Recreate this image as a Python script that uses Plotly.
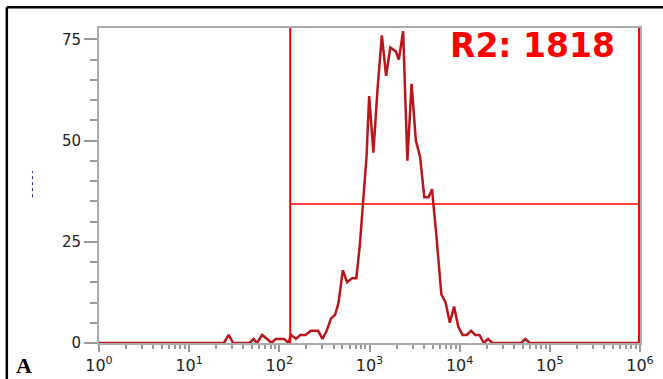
import plotly.graph_objects as go

# Histogram (fluorescence intensity vs. count)
intensity = [1, 24.3, 27.4, 30.8, 46.5, 51.9, 56.5, 64.4, 73.3, 81.7, 91.2, 113, 126, 135,
             153, 171, 195, 224, 269, 301, 335, 373, 416, 454, 506, 564, 641, 714, 780,
             851, 927, 991, 1104, 1230, 1371, 1528, 1702, 1963, 2113, 2360, 2630, 2931,
             3266, 3639, 4055, 4519, 4932, 5495, 6266, 6982, 7780, 8670, 9661, 10765,
             11995, 13366, 14894, 16596, 18535, 20654, 23014, 48084, 53580, 59704, 1000000]
counts = [0, 0, 2, 0, 0, 1, 0, 2, 1, 0, 1, 1, 0, 2,
          1, 2, 2, 3, 3, 1, 3, 6, 7, 10, 18, 15, 16, 16, 24,
          34, 46, 61, 47, 63, 76, 66, 73, 72, 70, 77, 45, 64,
          50, 46, 36, 36, 38, 27, 12, 10, 5, 9, 4, 2,
          2, 3, 2, 2, 0, 1, 0, 0, 1, 0, 0]

# Gate (region R2)
gate_lo = 132
gate_hi = 975000
gate_level = 34.3
gate_label = "R2: 1818"

x_tickvals = [1, 10, 100, 1000, 10000, 100000, 1000000]
x_ticktext = ["10<sup>0</sup>", "10<sup>1</sup>", "10<sup>2</sup>", "10<sup>3</sup>",
              "10<sup>4</sup>", "10<sup>5</sup>", "10<sup>6</sup>"]
y_tickvals = [0, 25, 50, 75]
y_ticktext = ["0", "25", "50", "75"]
panel_label = "A"

minor_x = [m * d for d in x_tickvals[:-1] for m in range(2, 10)]

fig = go.Figure()
fig.add_trace(go.Scatter(x=intensity, y=counts, mode="lines",
                         line=dict(color="#b8161b", width=2.5), showlegend=False,
                         hoverinfo="skip"))

red = "#ff0000"
shapes = [
    dict(type="line", xref="x", yref="paper", x0=gate_lo, x1=gate_lo, y0=0, y1=1,
         line=dict(color=red, width=2)),
    dict(type="line", xref="x", yref="paper", x0=gate_hi, x1=gate_hi, y0=0, y1=1,
         line=dict(color=red, width=2)),
    dict(type="line", xref="x", yref="y", x0=gate_lo, x1=gate_hi, y0=gate_level, y1=gate_level,
         line=dict(color=red, width=1.5)),
    # black outer border (top and left)
    dict(type="line", xref="paper", yref="paper", x0=-0.1704, x1=1.06, y0=1.0657, y1=1.0657,
         line=dict(color="black", width=2.5)),
    dict(type="line", xref="paper", yref="paper", x0=-0.1704, x1=-0.1704, y0=-0.13, y1=1.0657,
         line=dict(color="black", width=2.5)),
    # small dotted mark where the y-axis title would be
    dict(type="line", xref="paper", yref="paper", x0=-0.123, x1=-0.123, y0=0.463, y1=0.5455,
         line=dict(color="#1a2a8a", width=1, dash="dot")),
]

fig.update_layout(
    width=663, height=379,
    margin=dict(l=99, r=23, t=28, b=36),
    paper_bgcolor="white", plot_bgcolor="white",
    shapes=shapes,
    font=dict(family="DejaVu Sans", size=14, color="#222222"),
    annotations=[
        dict(text=gate_label, xref="paper", yref="paper", x=0.801, y=0.945,
             xanchor="center", yanchor="middle", showarrow=False,
             font=dict(family="DejaVu Sans", size=33, color=red, weight="bold")),
        dict(text="<b>" + panel_label + "</b>", xref="paper", yref="paper", x=-0.139, y=-0.07,
             xanchor="center", yanchor="middle", showarrow=False,
             font=dict(family="Liberation Serif", size=22, color="black")),
    ],
)

fig.update_xaxes(
    type="log", range=[0, 6], automargin=False,
    showline=True, linecolor="#ababab", linewidth=2, mirror=True,
    showgrid=False, zeroline=False,
    tickmode="array", tickvals=x_tickvals, ticktext=x_ticktext,
    ticks="outside", ticklen=7, tickcolor="#9a9a9a", tickwidth=1.5,
    minor=dict(tickmode="array", tickvals=minor_x, ticks="outside", ticklen=4,
               tickcolor="#9a9a9a", tickwidth=1.5, showgrid=False),
    tickfont=dict(size=16, color="#222222"),
)
fig.update_yaxes(
    range=[0, 77.8], automargin=False,
    showline=True, linecolor="#ababab", linewidth=2, mirror=True,
    showgrid=False, zeroline=False,
    tickmode="array", tickvals=y_tickvals, ticktext=y_ticktext,
    ticks="outside", ticklen=13, tickcolor="#9a9a9a", tickwidth=1.5,
    minor=dict(dtick=5, tick0=0, ticks="outside", ticklen=7, tickcolor="#9a9a9a",
               tickwidth=1.5, showgrid=False),
    tickfont=dict(size=15, color="#222222"),
)

fig.write_html("out.html")
